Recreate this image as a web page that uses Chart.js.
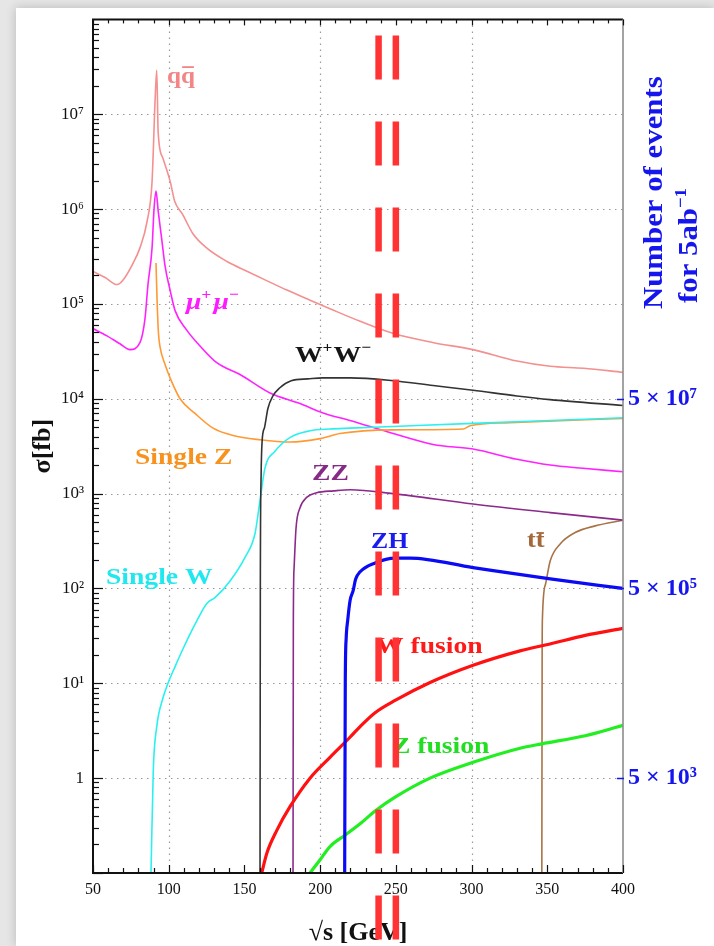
<!DOCTYPE html>
<html><head><meta charset="utf-8">
<script src="https://cdn.jsdelivr.net/npm/chart.js"></script>
<style>
html,body{margin:0;padding:0;background:#e6e6e6;width:714px;height:946px;overflow:hidden;}
#card{position:absolute;left:16px;top:8px;width:698px;height:938px;background:#fff;box-shadow:0 0 10px rgba(0,0,0,0.20);}
#wrap{position:absolute;left:0;top:0;width:714px;height:946px;}
</style></head><body>
<div id="card"></div>
<div id="wrap"><canvas id="c" width="714" height="946"></canvas></div>
<script>
// ---- axes / ticks ----
const xTickValues = [50, 100, 150, 200, 250, 300, 350, 400];
const yTickValues = [1, 10, 100, 1e3, 1e4, 1e5, 1e6, 1e7];
const yTickLabels = ['1', '10¹', '10²', '10³', '10⁴', '10⁵', '10⁶', '10⁷'];
const eventTickValues = [1, 100, 1e4];
const eventTickLabels = ['5 × 10³', '5 × 10⁵', '5 × 10⁷'];
const gridXValues = [100, 200, 300];
const markerEnergies = [238.6, 250];

// ---- series (sqrt(s) in GeV, sigma in fb) ----
const qqE = [50, 58, 66, 70, 76, 81, 85.7, 89, 91, 92.1, 93, 96, 101, 104, 109, 116, 125, 138.5, 152, 165, 178, 193, 206.5, 226, 248, 275, 301, 330, 352, 374, 400];
const qqS = [2.2e5, 1.9e5, 1.6e5, 1.8e5, 2.6e5, 3.9e5, 7.4e5, 1.95e6, 1.4e7, 2.9e7, 6.6e6, 3.5e6, 1.95e6, 1.2e6, 8.9e5, 5.5e5, 3.9e5, 2.8e5, 2.2e5, 1.75e5, 1.4e5, 1.1e5, 8.9e4, 6.6e4, 4.9e4, 3.9e4, 3.3e4, 2.5e4, 2.2e4, 2.1e4, 1.9e4];

const mumuE = [50, 59.2, 67.8, 74.4, 81, 84.3, 86.3, 89, 90.3, 91.6, 93.1, 95.4, 97.6, 100.9, 104.2, 111.9, 120.7, 131.7, 147.1, 166.9, 186.7, 201.9, 219.7, 248.2, 274.6, 301, 330, 351.8, 373.6, 400];
const mumuS = [5.5e4, 4.6e4, 3.8e4, 3.3e4, 3.9e4, 6.9e4, 1.6e5, 3.9e5, 1.0e6, 1.55e6, 9.4e5, 4.8e5, 2.5e5, 1.4e5, 8.5e4, 5.3e4, 3.6e4, 2.4e4, 1.8e4, 1.15e4, 8.9e3, 7.1e3, 5.9e3, 4.3e3, 3.3e3, 2.95e3, 2.3e3, 2.0e3, 1.85e3, 1.7e3];

const singleZE = [91.6, 92.4, 93.2, 94.3, 97.6, 100.9, 107.5, 117.4, 129.3, 142.5, 160.3, 180.1, 200, 213, 248, 294.4, 299, 325.4, 400];
const singleZS = [2.7e5, 1.0e5, 5.0e4, 3.5e4, 2.3e4, 1.66e4, 1.0e4, 7.0e3, 4.9e3, 4.1e3, 3.7e3, 3.5e3, 3.8e3, 4.3e3, 4.7e3, 4.8e3, 5.2e3, 5.6e3, 6.2e3];

const singleWE = [88.3, 89.8, 92.1, 96.2, 99.5, 104.2, 109.4, 117.4, 125.3, 130.6, 140.5, 150.4, 157, 160.3, 163.6, 170.2, 180, 193.3, 206.5, 220, 248, 301, 352, 400];
const singleWS = [0.1, 1.2, 3.5, 7, 10, 15, 23, 42, 70, 80, 120, 213, 380, 850, 1870, 2800, 3900, 4600, 4800, 4900, 5100, 5500, 5900, 6300];

const wwE = [160.3, 160.5, 161, 161.7, 163.3, 165.5, 168.8, 173.2, 180.9, 191.9, 201.8, 220, 248.2, 274.6, 301, 330, 351.8, 400];
const wwS = [0.1, 100, 1500, 3600, 5000, 7900, 1.07e4, 1.3e4, 1.55e4, 1.62e4, 1.66e4, 1.66e4, 1.55e4, 1.38e4, 1.23e4, 1.07e4, 9.8e3, 8.5e3];

const zzE = [182.1, 182.3, 182.8, 184.1, 186.7, 191.1, 197.7, 209, 220, 248, 301, 352, 400];
const zzS = [0.1, 45, 166, 437, 708, 912, 1020, 1070, 1100, 1000, 776, 631, 525];

const zhE = [216.2, 216.6, 217.2, 218.2, 219.8, 221.8, 223.4, 226.4, 236.3, 249.5, 259.4, 301, 352, 400];
const zhS = [0.1, 10, 30, 46, 75, 95, 125, 150, 186, 209, 209, 166, 126, 100];

const ttE = [346.4, 346.6, 346.8, 348.9, 351.9, 358.5, 368.4, 381.6, 400];
const ttS = [0.1, 20, 49, 112, 195, 295, 389, 457, 525];

const wFusionE = [161.4, 164.7, 171.3, 180.1, 193.3, 206.5, 219.7, 226.4, 236.3, 249.5, 272.6, 301, 332, 351.8, 375, 400];
const wFusionS = [0.1, 0.16, 0.28, 0.5, 1.0, 1.66, 2.7, 3.5, 4.9, 6.6, 10.2, 15.5, 22, 26, 32, 38];

const zFusionE = [193.3, 200, 206.5, 216.4, 226.4, 236.3, 249.5, 272.6, 301, 332, 346.4, 375, 400];
const zFusionS = [0.1, 0.138, 0.19, 0.25, 0.33, 0.45, 0.63, 1.0, 1.47, 2.07, 2.3, 2.8, 3.6];

const pts = (E, S) => E.map((e, i) => ({x: e, y: S[i]}));
const SERIF = '"Liberation Serif", "Times New Roman", serif';

function ds(label, E, S, color, w) {
  return {label, data: pts(E, S), borderColor: color, backgroundColor: color, borderWidth: w,
          pointRadius: 0, cubicInterpolationMode: 'monotone', fill: false};
}

function drawRich(ctx, parts, x, y, color, size, italic, sx) {
  ctx.save();
  ctx.translate(x, y);
  ctx.scale(sx, 1);
  ctx.fillStyle = color;
  ctx.textBaseline = 'alphabetic';
  ctx.textAlign = 'left';
  let cx = 0;
  parts.forEach(p => {
    const fs = p.sup ? Math.round(size * 0.62) : size;
    ctx.font = (italic ? 'italic ' : '') + 'bold ' + fs + 'px ' + SERIF;
    const dy = p.sup ? -size * 0.40 : 0;
    ctx.fillText(p.t, cx, dy);
    const w = ctx.measureText(p.t).width;
    if (p.bar) ctx.fillRect(cx + w * 0.08, -size * p.bar, w * 0.84, Math.max(1.6, size * 0.075));
    cx += w + (p.gap || 0);
  });
  ctx.restore();
}

const decorPlugin = {
  id: 'decor',
  beforeDatasetsDraw(chart) {
    const {ctx, chartArea: a, scales: {x, y}} = chart;
    ctx.save();
    ctx.strokeStyle = '#9a9a9a';
    ctx.lineWidth = 1.2;
    ctx.setLineDash([1.5, 4.5]);
    yTickValues.forEach(v => {
      const py = Math.round(y.getPixelForValue(v)) + 0.5;
      ctx.beginPath(); ctx.moveTo(a.left, py); ctx.lineTo(a.right, py); ctx.stroke();
    });
    gridXValues.forEach(v => {
      const px = Math.round(x.getPixelForValue(v)) + 0.5;
      ctx.beginPath(); ctx.moveTo(px, a.top); ctx.lineTo(px, a.bottom); ctx.stroke();
    });
    ctx.restore();
  },
  afterDatasetsDraw(chart) {
    const {ctx, chartArea: a, scales: {x, y}} = chart;
    ctx.save();
    // frame
    ctx.strokeStyle = '#111';
    ctx.lineWidth = 2;
    ctx.beginPath();
    ctx.moveTo(a.right, a.top); ctx.lineTo(a.left, a.top); ctx.lineTo(a.left, a.bottom); ctx.lineTo(a.right, a.bottom);
    ctx.stroke();
    ctx.strokeStyle = '#8c8c8c';
    ctx.lineWidth = 1.6;
    ctx.beginPath(); ctx.moveTo(a.right, a.top); ctx.lineTo(a.right, a.bottom); ctx.stroke();
    // left ticks (log minor)
    ctx.strokeStyle = '#111';
    ctx.lineWidth = 1.2;
    for (let k = -1; k <= 7; k++) {
      for (let m = 1; m <= 9; m++) {
        const v = m * Math.pow(10, k);
        if (v < 0.1 || v > 1e8) continue;
        const py = Math.round(y.getPixelForValue(v)) + 0.5;
        const len = m === 1 ? 10 : 6;
        ctx.beginPath(); ctx.moveTo(a.left, py); ctx.lineTo(a.left + len, py); ctx.stroke();
      }
    }
    // top / bottom ticks every 10 GeV
    for (let e = 50; e <= 400; e += 10) {
      const px = Math.round(x.getPixelForValue(e)) + 0.5;
      const major = e % 50 === 0;
      ctx.beginPath(); ctx.moveTo(px, a.top); ctx.lineTo(px, a.top + (major ? 6 : 4)); ctx.stroke();
      ctx.beginPath(); ctx.moveTo(px, a.bottom); ctx.lineTo(px, a.bottom - (major ? 8 : 5)); ctx.stroke();
    }
    // right blue tick marks
    ctx.strokeStyle = '#1515ee';
    ctx.lineWidth = 1.5;
    eventTickValues.forEach(v => {
      const py = Math.round(y.getPixelForValue(v)) + 0.5;
      ctx.beginPath(); ctx.moveTo(a.right - 6, py); ctx.lineTo(a.right + 1, py); ctx.stroke();
    });
    ctx.restore();

    // curve labels
    const S = 1.15;
    drawRich(ctx, [{t: 'q'}, {t: 'q', bar: 0.70}], 167, 83, '#f28686', 24, false, 1.05);
    drawRich(ctx, [{t: 'μ'}, {t: '+', sup: true, gap: 2}, {t: 'μ'}, {t: '−', sup: true}], 186, 309, '#ff1aff', 24, true, S);
    drawRich(ctx, [{t: 'W'}, {t: '+', sup: true, gap: 1}, {t: 'W'}, {t: '−', sup: true}], 295, 362, '#151515', 24, false, S);
    drawRich(ctx, [{t: 'Single Z'}], 135, 464, '#f7921e', 24, false, S);
    drawRich(ctx, [{t: 'ZZ'}], 312, 480, '#862a86', 24, false, S);
    drawRich(ctx, [{t: 'Single W'}], 106, 584, '#20e8ee', 24, false, S);
    drawRich(ctx, [{t: 'ZH'}], 371, 548, '#1a1af2', 23, false, 1.12);
    drawRich(ctx, [{t: 't'}, {t: 't', bar: 0.62}], 527, 547, '#a5683a', 24, false, 1.1);
    drawRich(ctx, [{t: 'W fusion'}], 376, 653, '#ff1a1a', 24, false, S);
    drawRich(ctx, [{t: 'Z fusion'}], 392, 753, '#22dd22', 24, false, S);

    // right-hand axis title (reads upward)
    ctx.save();
    ctx.translate(662, 309);
    ctx.rotate(-Math.PI / 2);
    drawRich(ctx, [{t: 'Number of events'}], 0, 0, '#1515ee', 28, false, 1.1);
    ctx.restore();
    ctx.save();
    ctx.translate(697, 303);
    ctx.rotate(-Math.PI / 2);
    drawRich(ctx, [{t: 'for 5ab'}, {t: '−1', sup: true}], 0, 0, '#1515ee', 28, false, 1.1);
    ctx.restore();
  },
  afterDraw(chart) {
    const {ctx, chartArea: a, scales: {x}} = chart;
    ctx.save();
    ctx.strokeStyle = '#ff3333';
    ctx.lineWidth = 6.5;
    ctx.setLineDash([44, 42]);
    markerEnergies.forEach(e => {
      const px = x.getPixelForValue(e);
      ctx.beginPath(); ctx.moveTo(px, a.top + 16); ctx.lineTo(px, chart.height); ctx.stroke();
    });
    ctx.restore();
  }
};

new Chart(document.getElementById('c'), {
  type: 'line',
  data: {
    datasets: [
      ds('ZH', zhE, zhS, '#0a0af5', 3.2),
      ds('W fusion', wFusionE, wFusionS, '#ff1111', 3.2),
      ds('Z fusion', zFusionE, zFusionS, '#22ee22', 3.2),
      ds('WW', wwE, wwS, '#333333', 1.6),
      ds('ZZ', zzE, zzS, '#8b2a8b', 1.6),
      ds('tt', ttE, ttS, '#a87346', 1.6),
      ds('Single W', singleWE, singleWS, '#2af0f0', 1.6),
      ds('Single Z', singleZE, singleZS, '#ff9933', 1.6),
      ds('mumu', mumuE, mumuS, '#ff22ff', 1.6),
      ds('qq', qqE, qqS, '#f39090', 1.6)
    ]
  },
  options: {
    responsive: false,
    animation: false,
    devicePixelRatio: 1,
    layout: {padding: {top: 19, left: 0, right: 0, bottom: 0}},
    plugins: {legend: {display: false}, tooltip: {enabled: false}},
    events: [],
    scales: {
      x: {
        type: 'linear', min: 50, max: 400, position: 'bottom',
        afterBuildTicks: s => { s.ticks = xTickValues.map(v => ({value: v})); },
        afterFit: s => { s.height = 73; },
        ticks: {autoSkip: false, maxRotation: 0, color: '#111', padding: 7,
                font: {family: SERIF, size: 16}},
        grid: {display: false, drawTicks: false},
        border: {display: false},
        title: {display: true, text: '√s [GeV]', color: '#111', padding: {top: 0, bottom: 0},
                font: {family: SERIF, size: 26, weight: 'bold', lineHeight: 1}}
      },
      y: {
        type: 'logarithmic', min: 0.1, max: 1e8, position: 'left',
        afterBuildTicks: s => { s.ticks = yTickValues.map(v => ({value: v})); },
        afterFit: s => { s.width = 93; },
        ticks: {autoSkip: false, color: '#111', padding: 9,
                font: {family: SERIF, size: 17},
                callback: v => yTickLabels[yTickValues.indexOf(v)]},
        grid: {display: false, drawTicks: false},
        border: {display: false},
        title: {display: true, text: 'σ[fb]', color: '#111', padding: {top: 30, bottom: 0},
                font: {family: SERIF, size: 26, weight: 'bold', lineHeight: 1}}
      },
      y2: {
        type: 'logarithmic', min: 0.1, max: 1e8, position: 'right',
        afterBuildTicks: s => { s.ticks = eventTickValues.map(v => ({value: v})); },
        afterFit: s => { s.width = 91; },
        ticks: {autoSkip: false, color: '#1515ee', padding: 5,
                font: {family: SERIF, size: 24, weight: 'bold'},
                callback: v => eventTickLabels[eventTickValues.indexOf(v)]},
        grid: {display: false, drawTicks: false},
        border: {display: false}
      }
    }
  },
  plugins: [decorPlugin]
});
</script>
</body></html>
